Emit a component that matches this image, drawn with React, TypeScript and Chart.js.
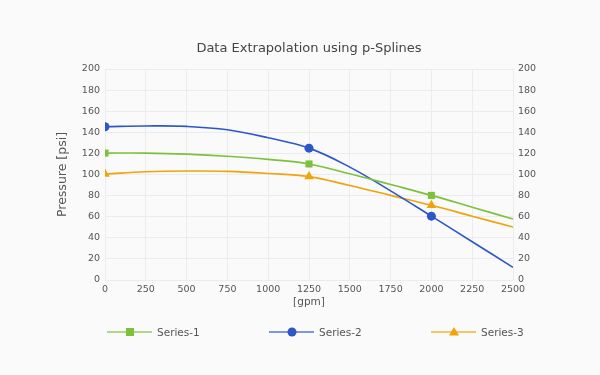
import React, { useEffect, useRef } from "react";
import { Chart, registerables } from "chart.js";

Chart.register(...registerables);

const xValues = [0, 250, 500, 750, 1000, 1250, 1500, 1750, 2000, 2250, 2500];
const markerX = [0, 1250, 2000];
const series1 = [120.3, 120.3, 119.3, 117.3, 114.3, 110, 100.7, 90.5, 80.2, 69, 57.8];
const series2 = [145.3, 146, 145.6, 142.4, 134.8, 125, 107, 84.5, 60.5, 36.3, 12];
const series3 = [100.5, 102.6, 103.3, 103, 101, 98, 89.5, 80.2, 70.8, 60.5, 50.2];
const seriesNames = ["Series-1", "Series-2", "Series-3"];
const yTicks = [0, 20, 40, 60, 80, 100, 120, 140, 160, 180, 200];

const FONT = "'DejaVu Sans', Verdana, sans-serif";
const TEXT = "#555555";

const colors = ["#7cc13b", "#2d56c9", "#f0a30a"];
const legendColors = ["rgba(124,193,59,0.6)", "rgba(45,86,201,0.6)", "rgba(240,163,10,0.6)"];
const styles = ["rect", "circle", "triangle"];
const radii = [5, 4.5, 5.5];

const legendPlugin = {
  id: "customLegend",
  afterDraw(chart: any) {
    const ctx = chart.ctx;
    const y = 332;
    const starts = [107, 269, 431];
    ctx.save();
    starts.forEach((sx, i) => {
      ctx.strokeStyle = legendColors[i];
      ctx.lineWidth = 2;
      ctx.beginPath();
      ctx.moveTo(sx, y);
      ctx.lineTo(sx + 45, y);
      ctx.stroke();
      ctx.fillStyle = colors[i];
      const cx = sx + 23;
      if (styles[i] === "rect") {
        ctx.fillRect(cx - 4, y - 4, 8, 8);
      } else if (styles[i] === "circle") {
        ctx.beginPath();
        ctx.arc(cx, y, 4.5, 0, Math.PI * 2);
        ctx.fill();
      } else {
        ctx.beginPath();
        ctx.moveTo(cx, y - 5);
        ctx.lineTo(cx + 5, y + 3.5);
        ctx.lineTo(cx - 5, y + 3.5);
        ctx.closePath();
        ctx.fill();
      }
      ctx.fillStyle = TEXT;
      ctx.font = `10.5px ${FONT}`;
      ctx.textAlign = "left";
      ctx.textBaseline = "middle";
      ctx.fillText(seriesNames[i], sx + 50, y + 1);
    });
    ctx.restore();
  },
};

const bgPlugin = {
  id: "bg",
  beforeDraw(chart: any) {
    const ctx = chart.ctx;
    ctx.save();
    ctx.fillStyle = "#fafafa";
    ctx.fillRect(0, 0, chart.width, chart.height);
    ctx.restore();
  },
};

export default function App() {
  const ref = useRef<HTMLCanvasElement>(null);
  useEffect(() => {
    if (!ref.current) return;
    const all = [series1, series2, series3];
    const datasets = all.map((vals, i) => ({
      label: seriesNames[i],
      data: xValues.map((x, j) => ({ x, y: vals[j] })),
      borderColor: colors[i],
      backgroundColor: colors[i],
      borderWidth: 1.6,
      pointStyle: styles[i],
      pointRadius: xValues.map((x) => (markerX.includes(x) ? radii[i] : 0)),
      pointHoverRadius: 0,
      pointBorderWidth: 0,
      tension: 0.4,
      fill: false,
    }));
    const plain = (v: any) => String(v);
    const chart = new Chart(ref.current, {
      type: "line",
      data: { datasets },
      plugins: [bgPlugin, legendPlugin],
      options: {
        animation: false,
        responsive: false,
        layout: { padding: { top: 0, left: 0, right: 0, bottom: 61 } },
        plugins: {
          legend: { display: false },
          tooltip: { enabled: false },
          title: {
            display: true,
            fullSize: false,
            text: "Data Extrapolation using p-Splines",
            color: "#444444",
            font: { family: FONT, size: 13, weight: "normal" },
            padding: { top: 40.5, bottom: 12.9 },
          },
        },
        scales: {
          x: {
            type: "linear",
            min: 0,
            max: 2500,
            ticks: {
              stepSize: 250,
              color: TEXT,
              font: { family: FONT, size: 9.5 },
              padding: 4,
              maxRotation: 0,
              callback: plain,
            },
            grid: { color: "#ececec", drawTicks: false },
            border: { display: false },
            title: {
              display: true,
              text: "[gpm]",
              color: TEXT,
              font: { family: FONT, size: 10.5 },
              padding: { top: 0, bottom: 5 },
            },
            afterFit: (s: any) => {
              s.height = 34;
            },
          },
          y: {
            position: "left",
            min: 0,
            max: 200,
            afterBuildTicks: (s: any) => {
              s.ticks = yTicks.map((v) => ({ value: v }));
            },
            ticks: {
              color: TEXT,
              font: { family: FONT, size: 9.5 },
              padding: 5,
              callback: plain,
            },
            grid: { color: "#ececec", drawTicks: false },
            border: { display: false },
            title: {
              display: true,
              text: "Pressure [psi]",
              color: TEXT,
              font: { family: FONT, size: 12.5 },
              padding: { top: 55, bottom: 0 },
            },
            afterFit: (s: any) => {
              s.width = 105;
            },
          },
          y2: {
            position: "right",
            min: 0,
            max: 200,
            afterBuildTicks: (s: any) => {
              s.ticks = yTicks.map((v) => ({ value: v }));
            },
            ticks: {
              color: TEXT,
              font: { family: FONT, size: 9.5 },
              padding: 5,
              callback: plain,
            },
            grid: { display: false, drawTicks: false },
            border: { display: false },
            afterFit: (s: any) => {
              s.width = 87;
            },
          },
        },
      },
    });
    return () => chart.destroy();
  }, []);
  return (
    <div style={{ position: "absolute", left: 0, top: 0, width: 600, height: 375 }}>
      <canvas ref={ref} width={600} height={375} />
    </div>
  );
}
